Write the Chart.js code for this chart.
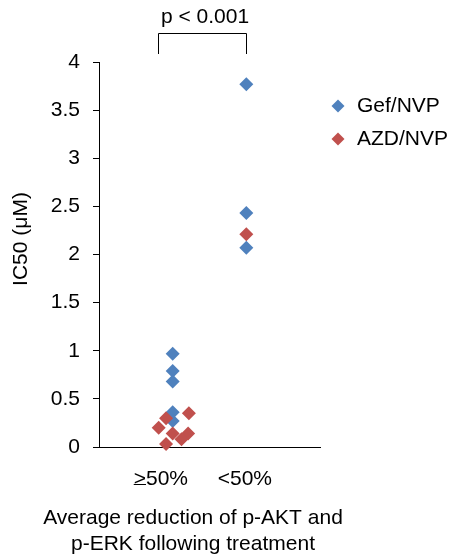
<!DOCTYPE html>
<html>
<head>
<meta charset="utf-8">
<script src="https://cdn.jsdelivr.net/npm/chart.js@4.4.0/dist/chart.umd.min.js"></script>
<style>
  html, body { margin: 0; padding: 0; background: #fff; }
</style>
</head>
<body>
<canvas id="myChart" width="451" height="555"></canvas>
<script>
// categories on the x axis (Excel-style scatter: 1 and 2, small jitter)
const categories = ['>50%', '<50%'];
const seriesNames = ['Gef/NVP', 'AZD/NVP'];

// Gef/NVP
const gefX = [1, 1, 1, 1, 1, 2, 2, 2];
const gefY = [0.97, 0.79, 0.68, 0.36, 0.27, 3.77, 2.43, 2.07];

// AZD/NVP
const azdX = [1.22, 0.91, 0.81, 1.0, 1.21, 1.12, 0.91, 2];
const azdY = [0.35, 0.30, 0.20, 0.14, 0.14, 0.08, 0.03, 2.21];

const pLabel = 'p < 0.001';
const yTitle = 'IC50 (\u03BCM)';
const xTitle = ['Average reduction of p-AKT and', 'p-ERK following treatment'];

const FONT = "'Liberation Sans', Arial, sans-serif";
const colors = ['#4F81BD', '#C0504D'];

function toPoints(xs, ys) {
  return xs.map((x, i) => ({ x: x, y: ys[i] }));
}

// bracket, p-value, axis titles, legend and the underline of ">"
const extras = {
  id: 'extras',
  afterDraw(chart) {
    const ctx = chart.ctx;
    const xs = chart.scales.x;
    const ys = chart.scales.y;
    ctx.save();
    ctx.fillStyle = '#000';
    ctx.strokeStyle = '#000';
    ctx.lineWidth = 1;
    ctx.font = '21px ' + FONT;

    // bracket
    const bl = Math.round(xs.getPixelForValue(0.8)) + 0.5;
    const br = Math.round(xs.getPixelForValue(2.0)) + 0.5;
    const bt = Math.round(ys.getPixelForValue(4.3)) + 0.5;
    const bb = Math.round(ys.getPixelForValue(4.08));
    ctx.beginPath();
    ctx.moveTo(bl, bb);
    ctx.lineTo(bl, bt);
    ctx.lineTo(br, bt);
    ctx.lineTo(br, bb);
    ctx.stroke();

    ctx.textAlign = 'center';
    ctx.textBaseline = 'middle';
    ctx.fillText(pLabel, xs.getPixelForValue(1.44), ys.getPixelForValue(4.47));

    // x title
    ctx.fillText(xTitle[0], 193, 518);
    ctx.fillText(xTitle[1], 193, 544);

    // y title
    ctx.save();
    ctx.translate(21, 239);
    ctx.rotate(-Math.PI / 2);
    ctx.fillText(yTitle, 0, 0);
    ctx.restore();

    // underline under ">" of first category
    const t = xs.ticks[0];
    const cx = xs.getPixelForValue(t.value);
    const w = ctx.measureText(categories[0]).width;
    const wg = ctx.measureText('>').width;
    const ux = cx - w / 2;
    const uy = chart.chartArea.bottom + 37.5;
    ctx.beginPath();
    ctx.moveTo(ux, uy);
    ctx.lineTo(ux + wg, uy);
    ctx.stroke();

    // legend
    ctx.textAlign = 'left';
    chart.data.datasets.forEach((ds, i) => {
      const lx = 338, ly = 106 + i * 33;
      const r = 6.5;
      ctx.fillStyle = ds.backgroundColor;
      ctx.beginPath();
      ctx.moveTo(lx, ly - r);
      ctx.lineTo(lx + r, ly);
      ctx.lineTo(lx, ly + r);
      ctx.lineTo(lx - r, ly);
      ctx.closePath();
      ctx.fill();
      ctx.fillStyle = '#000';
      ctx.fillText(ds.label, 357, ly);
    });
    ctx.restore();
  }
};

const ctx = document.getElementById('myChart');
new Chart(ctx, {
  type: 'scatter',
  data: {
    datasets: [{
      label: seriesNames[0],
      data: toPoints(gefX, gefY),
      backgroundColor: colors[0],
      borderColor: colors[0],
      pointStyle: 'rectRot',
      pointRadius: 7,
      pointBorderWidth: 0,
      clip: false,
      order: 1
    }, {
      label: seriesNames[1],
      data: toPoints(azdX, azdY),
      backgroundColor: colors[1],
      borderColor: colors[1],
      pointStyle: 'rectRot',
      pointRadius: 7,
      pointBorderWidth: 0,
      clip: false,
      order: 0
    }]
  },
  options: {
    responsive: false,
    animation: false,
    layout: { padding: { top: 62, right: 131, bottom: 0, left: 0 } },
    plugins: {
      legend: { display: false },
      tooltip: { enabled: false }
    },
    scales: {
      x: {
        type: 'linear',
        min: 0,
        max: 3,
        afterBuildTicks: (scale) => {
          scale.ticks = [{ value: 0.84 }, { value: 1.98 }];
        },
        afterFit: (scale) => { scale.height = 108; },
        grid: { display: false },
        border: { display: true, color: '#000', width: 1 },
        ticks: {
          padding: 12,
          color: '#000',
          font: { family: FONT, size: 21 },
          maxRotation: 0,
          autoSkip: false,
          callback: (v, i) => categories[i]
        }
      },
      y: {
        min: 0,
        max: 4,
        afterFit: (scale) => { scale.width = 99; },
        grid: { drawOnChartArea: false, tickLength: 6, color: '#000' },
        border: { display: true, color: '#000', width: 1 },
        ticks: {
          stepSize: 0.5,
          padding: 13,
          color: '#000',
          font: { family: FONT, size: 21 },
          callback: (v) => String(v)
        }
      }
    }
  },
  plugins: [extras]
});
</script>
</body>
</html>
